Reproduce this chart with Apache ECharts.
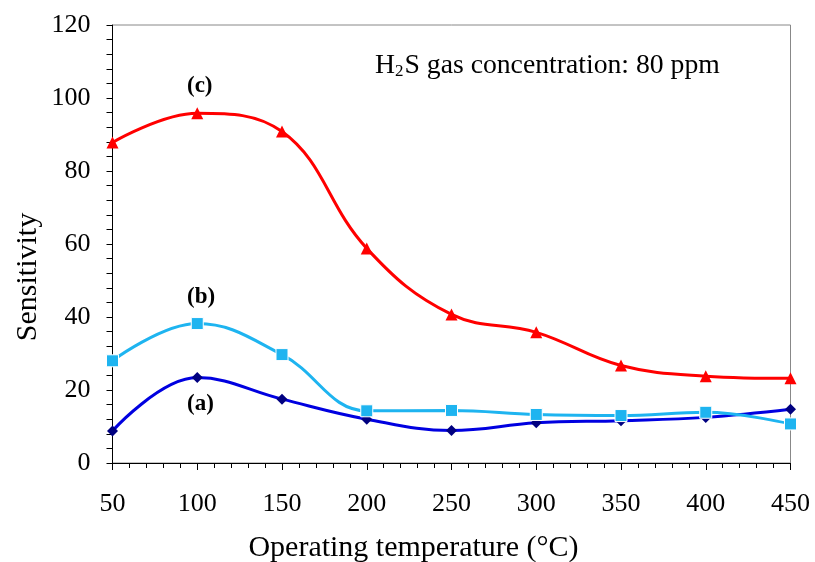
<!DOCTYPE html>
<html><head><meta charset="utf-8">
<script src="https://cdn.jsdelivr.net/npm/echarts@6/dist/echarts.min.js"></script>
<style>html,body{margin:0;padding:0;background:#fff}#c{width:815px;height:562px}</style>
</head><body><div id="c"></div>
<script>
var temperatures = [50, 100, 150, 200, 250, 300, 350, 400, 450];
var seriesA = [8.8, 23.4, 17.5, 12.0, 8.9, 11.0, 11.6, 12.5, 14.7];
var seriesB = [28.0, 38.2, 29.7, 14.3, 14.4, 13.3, 13.0, 13.9, 10.7];
var seriesC = [87.8, 95.8, 90.8, 58.8, 40.7, 35.8, 26.7, 23.8, 23.2];
var seriesNames = ['(a)', '(b)', '(c)'];
var xTitle = 'Operating temperature (\u00B0C)';
var yTitle = 'Sensitivity';

function pairs(vals){ return temperatures.map(function(t,i){ return [t, vals[i]]; }); }
var font = '"Liberation Serif","Times New Roman",serif';
var chart = echarts.init(document.getElementById('c'), null, {renderer:'canvas'});
chart.setOption({
  animation:false,
  backgroundColor:'#fff',
  grid:{left:112.5, right:24.5, top:25, bottom:99, show:true, borderColor:'#888', borderWidth:1},
  xAxis:{type:'value', min:50, max:450, interval:50,
    axisLine:{lineStyle:{color:'#000', width:1}},
    axisTick:{inside:false, length:7, lineStyle:{color:'#000'}},
    minorTick:{show:true, splitNumber:5, length:5, lineStyle:{color:'#000'}},
    splitLine:{show:false},
    axisLabel:{fontFamily:font, fontSize:26, color:'#000', margin:28}
  },
  yAxis:{type:'value', min:0, max:120, interval:20,
    axisLine:{show:true, lineStyle:{color:'#000', width:1}},
    axisTick:{show:true, inside:false, length:6, lineStyle:{color:'#000'}},
    minorTick:{show:true, splitNumber:5, length:6, lineStyle:{color:'#000'}},
    splitLine:{show:false},
    axisLabel:{fontFamily:font, fontSize:26, color:'#000', margin:22}
  },
  series:[
    {name:seriesNames[0], type:'line', data:pairs(seriesA), smooth:0.4,
      lineStyle:{color:'#0000E0', width:3}, symbol:'diamond', symbolSize:11,
      itemStyle:{color:'#000080'}, z:3},
    {name:seriesNames[1], type:'line', data:pairs(seriesB), smooth:0.4,
      lineStyle:{color:'#1EB4F0', width:3}, symbol:'rect', symbolSize:12,
      itemStyle:{color:'#1EB4F0', borderColor:'#fff', borderWidth:1}, z:4},
    {name:seriesNames[2], type:'line', data:pairs(seriesC), smooth:0.4,
      lineStyle:{color:'#FF0000', width:3}, symbol:'triangle', symbolSize:12,
      itemStyle:{color:'#FF0000'}, z:5}
  ],
  graphic:[
    {type:'text', x:28, y:277, rotation:Math.PI/2,
      style:{text:yTitle, font:'30px '+font, fill:'#000', align:'center', verticalAlign:'middle'}},
    {type:'text', x:413.5, y:548,
      style:{text:xTitle, font:'30px '+font, fill:'#000', align:'center', verticalAlign:'middle'}},
    {type:'text', left:187, top:75, style:{text:seriesNames[2], font:'bold 23px '+font, fill:'#000'}},
    {type:'text', left:187, top:286, style:{text:seriesNames[1], font:'bold 23px '+font, fill:'#000'}},
    {type:'text', left:187, top:393, style:{text:seriesNames[0], font:'bold 23px '+font, fill:'#000'}},
    {type:'text', left:375, top:52, style:{
      rich:{n:{fontFamily:font, fontSize:27.7, color:'#000'}, s:{fontFamily:font, fontSize:17, color:'#000', padding:[12,1,0,0]}},
      text:'{n|H}{s|2}{n|S gas concentration: 80 ppm}'}}
  ]
});
</script></body></html>
